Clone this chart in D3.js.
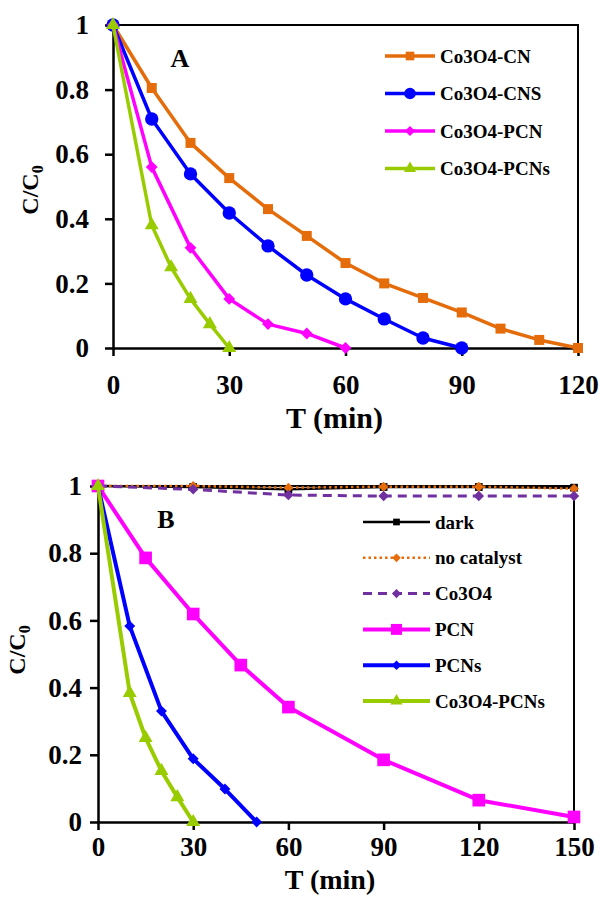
<!DOCTYPE html>
<html><head><meta charset="utf-8">
<script src="https://d3js.org/d3.v7.min.js"></script>
<style>
  body { margin: 0; background: #fff; }
  text { font-family: "Liberation Serif", "Times New Roman", serif; font-weight: bold; fill: #000; }
</style>
</head>
<body>
<div id="chart"></div>
<script>
// ---------- data: panel A ----------
var timeA10 = [0, 10, 20, 30, 40, 50, 60, 70, 80, 90, 100, 110, 120];
var co3o4CN  = [1, 0.805, 0.635, 0.526, 0.43, 0.347, 0.263, 0.2, 0.155, 0.11, 0.06, 0.025, 0];
var co3o4CNS = [1, 0.709, 0.539, 0.418, 0.316, 0.226, 0.152, 0.09, 0.031, 0];
var co3o4PCN = [1, 0.56, 0.31, 0.152, 0.074, 0.045, 0];
var timePCNs = [0, 10, 15, 20, 25, 30];
var co3o4PCNsA = [1, 0.38, 0.25, 0.152, 0.074, 0];
var ticksA = [0, 30, 60, 90, 120];

// ---------- data: panel B ----------
var time30 = [0, 30, 60, 90, 120, 150];
var dark       = [1, 0.997, 0.99, 0.997, 0.997, 0.995];
var noCatalyst = [1, 1, 0.995, 0.998, 0.998, 0.992];
var co3o4      = [1, 0.99, 0.973, 0.97, 0.97, 0.97];
var timePCN = [0, 15, 30, 45, 60, 90, 120, 150];
var pcn     = [1, 0.786, 0.619, 0.467, 0.342, 0.185, 0.065, 0.015];
var timePCNsB = [0, 10, 20, 30, 40, 50];
var pcns      = [1, 0.583, 0.33, 0.188, 0.098, 0];
var co3o4PCNsB = [1, 0.384, 0.25, 0.152, 0.074, 0];
var ticksB = [0, 30, 60, 90, 120, 150];

var yTicks = [0, 0.2, 0.4, 0.6, 0.8, 1];

var orange = "#e46c0a", blue = "#0000ff", magenta = "#ff00ff", green = "#99cc00", purple = "#7030a0";

function pts(xs, ys) { return ys.map(function(v, i) { return [xs[i], v]; }); }

var svg = d3.select("#chart").append("svg")
  .attr("width", 603).attr("height", 897);
svg.append("rect").attr("width", 603).attr("height", 897).attr("fill", "#fff");

function marker(g, shape, size, color) {
  var types = { square: d3.symbolSquare, circle: d3.symbolCircle, diamond: d3.symbolSquare, triangle: d3.symbolTriangle };
  var p = g.append("path").attr("d", d3.symbol().type(types[shape]).size(size)()).attr("fill", color);
  if (shape == "diamond") p.attr("transform", "rotate(45)");
  return p;
}

function drawPanel(cfg) {
  var x = d3.scaleLinear().domain([0, cfg.xMax]).range([cfg.left, cfg.right]);
  var y = d3.scaleLinear().domain([0, 1]).range([cfg.bottom, cfg.top]);
  var g = svg.append("g");

  // frame top/right
  g.append("path")
    .attr("d", "M" + cfg.left + "," + cfg.top + "H" + cfg.right + "V" + cfg.bottom)
    .attr("fill", "none").attr("stroke", "#000").attr("stroke-width", 2);

  var xa = g.append("g").attr("transform", "translate(0," + cfg.bottom + ")")
    .call(d3.axisBottom(x).tickValues(cfg.xTicks).tickSize(8).tickPadding(cfg.xPad).tickSizeOuter(0));
  var ya = g.append("g").attr("transform", "translate(" + cfg.left + ",0)")
    .call(d3.axisLeft(y).tickValues(yTicks).tickSize(8).tickPadding(cfg.yPad).tickSizeOuter(0)
      .tickFormat(function(d) { return String(+d.toFixed(1)); }));
  [xa, ya].forEach(function(a) {
    a.selectAll("path, line").attr("stroke", "#000").attr("stroke-width", 2.5);
    a.selectAll("text").style("font-size", "27px").style("font-family", '"Liberation Serif", serif').style("font-weight", "bold");
  });

  var line = d3.line().x(function(d) { return x(d[0]); }).y(function(d) { return y(d[1]); });

  cfg.series.forEach(function(s) {
    var data = pts(s.x, s.y);
    g.append("path").datum(data).attr("d", line)
      .attr("fill", "none").attr("stroke", s.color).attr("stroke-width", s.width)
      .attr("stroke-dasharray", s.dash || null).attr("stroke-linejoin", "round");
    data.forEach(function(d) {
      var m = g.append("g").attr("transform", "translate(" + x(d[0]) + "," + y(d[1]) + ")");
      marker(m, s.shape, s.size, s.color);
    });
  });

  // legend
  cfg.series.forEach(function(s, i) {
    var ly = cfg.legY + i * cfg.legStep;
    var lg = g.append("g").attr("transform", "translate(" + cfg.legX + "," + ly + ")");
    lg.append("line").attr("x1", 0).attr("x2", cfg.legLen).attr("y1", 0).attr("y2", 0)
      .attr("stroke", s.color).attr("stroke-width", s.width).attr("stroke-dasharray", s.dash || null);
    var m = lg.append("g").attr("transform", "translate(" + cfg.legLen / 2 + ",0)");
    marker(m, s.shape, s.size * 0.75, s.color);
    lg.append("text").attr("x", cfg.legLen + 5).attr("dy", "0.35em")
      .style("font-size", "19px").text(s.name);
  });

  g.append("text").attr("x", cfg.tagX).attr("y", cfg.tagY).attr("text-anchor", "middle")
    .style("font-size", "26px").text(cfg.tag);

  g.append("text").attr("x", (cfg.left + cfg.right) / 2 - cfg.titleShift).attr("y", cfg.titleY)
    .attr("text-anchor", "middle").style("font-size", cfg.titleSize + "px").text("T (min)");

  var yl = g.append("text")
    .attr("transform", "translate(" + cfg.yLabX + "," + cfg.yLabY + ") rotate(-90)")
    .attr("text-anchor", "middle").style("font-size", "24px");
  yl.append("tspan").text("C/C");
  yl.append("tspan").attr("dy", "0.3em").style("font-size", "16px").text("0");
}

drawPanel({
  left: 113, right: 578, top: 25, bottom: 348, xMax: 120, xTicks: ticksA,
  xPad: 19, yPad: 16,
  legX: 385, legY: 56, legStep: 37.5, legLen: 50,
  tag: "A", tagX: 180, tagY: 67, titleY: 428, titleShift: 11, titleSize: 30, yLabX: 38, yLabY: 190,
  series: [
    { name: "Co3O4-CN", x: timeA10, y: co3o4CN, color: orange, width: 3.5, shape: "square", size: 100 },
    { name: "Co3O4-CNS", x: timeA10, y: co3o4CNS, color: blue, width: 3.5, shape: "circle", size: 140 },
    { name: "Co3O4-PCN", x: timeA10, y: co3o4PCN, color: magenta, width: 3.5, shape: "diamond", size: 70 },
    { name: "Co3O4-PCNs", x: timePCNs, y: co3o4PCNsA, color: green, width: 3.5, shape: "triangle", size: 85 }
  ]
});

drawPanel({
  left: 98, right: 574, top: 486, bottom: 822, xMax: 150, xTicks: ticksB,
  xPad: 7, yPad: 8,
  legX: 363, legY: 522, legStep: 35.8, legLen: 67,
  tag: "B", tagX: 166, tagY: 528, titleY: 889, titleShift: 6, titleSize: 28, yLabX: 25, yLabY: 650,
  series: [
    { name: "dark", x: time30, y: dark, color: "#000", width: 2.5, shape: "square", size: 60 },
    { name: "no catalyst", x: time30, y: noCatalyst, color: orange, width: 2.5, dash: "2.5,3", shape: "diamond", size: 50 },
    { name: "Co3O4", x: time30, y: co3o4, color: purple, width: 3, dash: "9,6", shape: "diamond", size: 55 },
    { name: "PCN", x: timePCN, y: pcn, color: magenta, width: 4, shape: "square", size: 160 },
    { name: "PCNs", x: timePCNsB, y: pcns, color: blue, width: 4, shape: "diamond", size: 60 },
    { name: "Co3O4-PCNs", x: timePCNs, y: co3o4PCNsB, color: green, width: 4, shape: "triangle", size: 85 }
  ]
});
</script>
</body></html>
